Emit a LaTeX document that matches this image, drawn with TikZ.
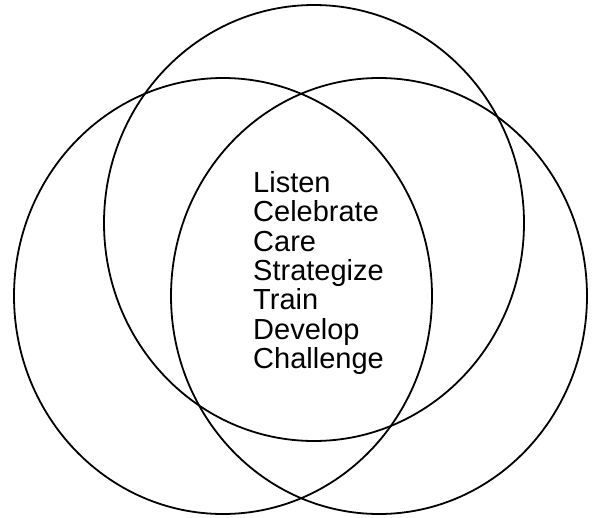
\documentclass[tikz,border=0pt]{standalone}
\usepackage{fontspec}
\setmainfont{Liberation Sans}
\usepackage{tikz}

\begin{document}
\begin{tikzpicture}[x=1pt,y=-1pt]
       \useasboundingbox (0,0) rectangle (592,517);
       \draw [line width=1.8pt] (314,223) ellipse [x radius=210, y radius=218];
       \draw [line width=1.8pt] (223,296) ellipse [x radius=209, y radius=218];
       \draw [line width=1.8pt] (379,296) ellipse [x radius=208, y radius=218];
       \node [anchor=north west, align=left, inner sep=0pt,
              font=\fontsize{29}{29.4}\selectfont] (tasks) at (253,171)
             {Listen\\Celebrate\\Care\\Strategize\\Train\\Develop\\Challenge};
      \end{tikzpicture}
\end{document}
